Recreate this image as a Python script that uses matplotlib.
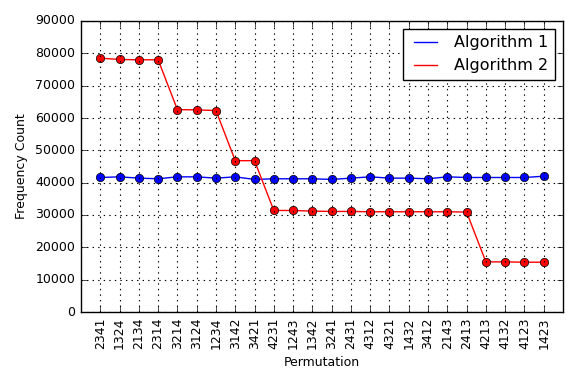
import matplotlib
matplotlib.use("Agg")
import matplotlib.pyplot as plt
import numpy as np

plt.style.use("classic")

perms = ["2341", "1324", "2134", "2314", "3214", "3124", "1234", "3142",
         "3421", "4231", "1243", "1342", "3241", "2431", "4312", "4321",
         "1432", "3412", "2143", "2413", "4213", "4132", "4123", "1423"]
algo1 = [41600, 41800, 41400, 41200, 41800, 41800, 41400, 41800,
         41000, 41200, 41200, 41200, 41000, 41400, 41800, 41400,
         41400, 41200, 41800, 41600, 41600, 41600, 41600, 42000]
algo2 = [78500, 78100, 78000, 78000, 62600, 62500, 62300, 46800,
         46800, 31400, 31400, 31200, 31100, 31100, 31000, 31000,
         31000, 31000, 31000, 30900, 15500, 15500, 15400, 15400]

x = np.arange(len(perms))

fig = plt.figure(figsize=(5.77, 3.85), dpi=100, facecolor="white")
ax = fig.add_axes([81/577, 1 - 312/385, (563 - 81)/577, (312 - 21)/385])

ax.plot(x, algo1, "-", color="blue", lw=1, label="Algorithm 1")
ax.plot(x, algo2, "-", color="red", lw=1, label="Algorithm 2")
ax.plot(x, algo1, "o", color="blue", mec="black", ms=6)
ax.plot(x, algo2, "o", color="red", mec="black", ms=6)

ax.set_xlim(-1, len(perms))
ax.set_ylim(0, 90000)
ax.set_xticks(x)
ax.set_xticklabels(perms, rotation=90, fontsize=9)
ax.tick_params(axis="y", labelsize=9)
ax.set_xlabel("Permutation", fontsize=9)
ax.set_ylabel("Frequency Count", fontsize=9)
ax.grid(True, color="black", linestyle=":", lw=0.8)
ax.legend(loc="upper right", fontsize=11.5, handlelength=2, fancybox=False)

fig.savefig("out.png", dpi=100, facecolor="white")
